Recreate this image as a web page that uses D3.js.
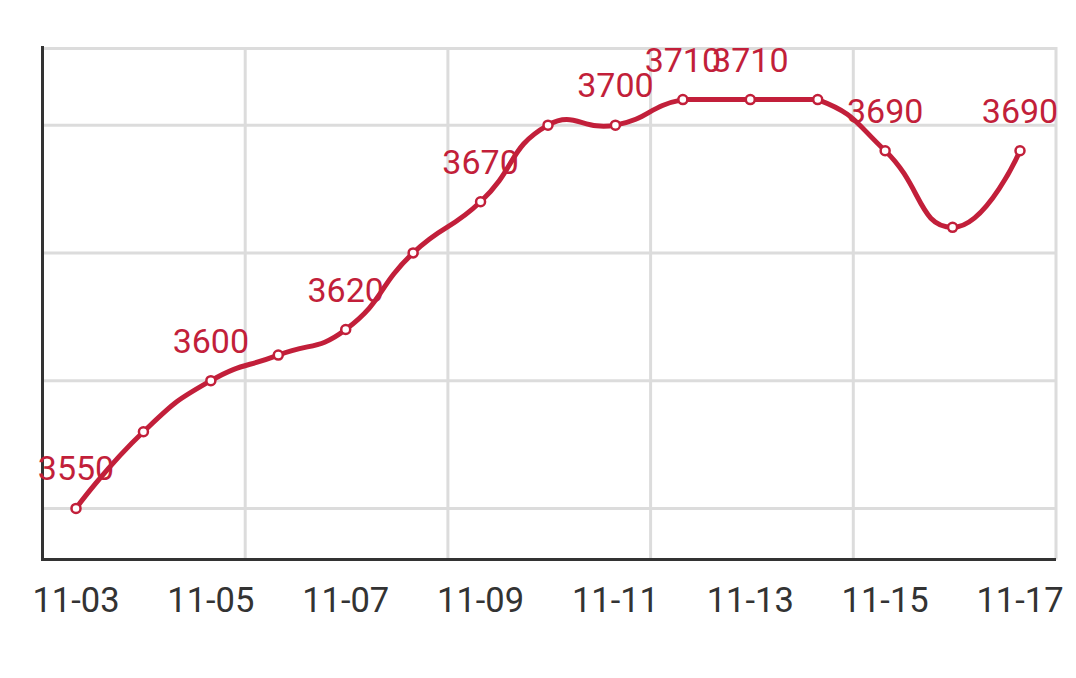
<!DOCTYPE html>
<html>
<head>
<meta charset="utf-8">
<script src="https://cdn.jsdelivr.net/npm/d3@7"></script>
<style>
  html, body { margin: 0; padding: 0; background: #fff; }
  svg { display: block; }
  text { font-family: Roboto, "Noto Sans", sans-serif; }
</style>
</head>
<body>
<svg id="chart" width="1076" height="678"></svg>
<script>
// ---- data ----
const categories = ["11-03","11-04","11-05","11-06","11-07","11-08","11-09","11-10",
                    "11-11","11-12","11-13","11-14","11-15","11-16","11-17"];
const values = [3550, 3580, 3600, 3610, 3620, 3650, 3670, 3700, 3700, 3710, 3710, 3710, 3690, 3660, 3690];
// indices of points whose value label is shown
const labelIndices = [0, 2, 4, 6, 8, 9, 10, 12, 14];
// x-axis labels shown
const xTickLabels = ["11-03","11-05","11-07","11-09","11-11","11-13","11-15","11-17"];
const yDomain = [3530, 3730];
const yGridValues = [3550, 3600, 3650, 3700, 3730];

// ---- layout ----
const plotLeft = 42.5, plotRight = 1056, plotTop = 48.5, plotBottom = 559.5;
const lineColor = "#c21f3a";

const svg = d3.select("#chart");

const x = d3.scalePoint().domain(categories).range([76, 1020]);
const y = d3.scaleLinear().domain(yDomain).range([plotBottom, plotTop]);
const xGrid = d3.scaleLinear().domain([0, 5]).range([plotLeft, plotRight]);

// ECharts-style smooth bezier with bounding-box constraint
function smoothCurve(context) {
  let pts;
  return {
    areaStart() {}, areaEnd() {},
    lineStart() { pts = []; },
    point(px, py) { pts.push([+px, +py]); },
    lineEnd() {
      if (!pts.length) return;
      const smooth = 0.5;
      const mn = [d3.min(pts, p => p[0]), d3.min(pts, p => p[1])];
      const mx = [d3.max(pts, p => p[0]), d3.max(pts, p => p[1])];
      const clamp = c => [Math.max(mn[0], Math.min(mx[0], c[0])), Math.max(mn[1], Math.min(mx[1], c[1]))];
      let cp0 = pts[0].slice();
      context.moveTo(pts[0][0], pts[0][1]);
      for (let i = 1; i < pts.length; i++) {
        const p = pts[i], prev = pts[i - 1], next = pts[i + 1];
        let cp1, v = [0, 0], ratio = 0.5;
        if (!next) {
          cp1 = p.slice();
        } else {
          v = [next[0] - prev[0], next[1] - prev[1]];
          const lp = Math.hypot(p[0] - prev[0], p[1] - prev[1]);
          const ln = Math.hypot(next[0] - p[0], next[1] - p[1]);
          ratio = ln / (ln + lp);
          cp1 = [p[0] - v[0] * smooth * (1 - ratio), p[1] - v[1] * smooth * (1 - ratio)];
        }
        const a = clamp(cp0), b = clamp(cp1);
        context.bezierCurveTo(a[0], a[1], b[0], b[1], p[0], p[1]);
        cp0 = [p[0] + v[0] * smooth * ratio, p[1] + v[1] * smooth * ratio];
      }
    }
  };
}

// grid
const grid = svg.append("g").attr("stroke", "#dcdcdc").attr("stroke-width", 3);
grid.selectAll("line.h").data(yGridValues).join("line")
  .attr("x1", plotLeft).attr("x2", plotRight)
  .attr("y1", d => y(d)).attr("y2", d => y(d));
grid.selectAll("line.v").data(d3.range(1, 6)).join("line")
  .attr("x1", d => xGrid(d)).attr("x2", d => xGrid(d))
  .attr("y1", y(yDomain[1]) - 1.5).attr("y2", plotBottom);

// axes
svg.append("line").attr("x1", plotLeft).attr("x2", plotLeft)
  .attr("y1", y(yDomain[1]) - 2.5).attr("y2", plotBottom + 1.5)
  .attr("stroke", "#333").attr("stroke-width", 3);
svg.append("line").attr("x1", plotLeft - 1.5).attr("x2", plotRight)
  .attr("y1", plotBottom).attr("y2", plotBottom)
  .attr("stroke", "#333").attr("stroke-width", 3);

// x labels
svg.append("g").selectAll("text").data(xTickLabels).join("text")
  .attr("x", d => x(d)).attr("y", 612)
  .attr("text-anchor", "middle")
  .attr("font-size", 34.5)
  .attr("fill", "#333")
  .text(d => d);

// line
const data = categories.map((c, i) => ({ c, v: values[i] }));
const line = d3.line().x(d => x(d.c)).y(d => y(d.v)).curve(smoothCurve);
svg.append("path").datum(data)
  .attr("d", line)
  .attr("fill", "none")
  .attr("stroke", lineColor)
  .attr("stroke-width", 5)
  .attr("stroke-linejoin", "round");

// points
svg.append("g").selectAll("circle").data(data).join("circle")
  .attr("cx", d => x(d.c)).attr("cy", d => y(d.v))
  .attr("r", 4.5)
  .attr("fill", "#fff")
  .attr("stroke", lineColor)
  .attr("stroke-width", 2.5);

// value labels
svg.append("g").selectAll("text").data(labelIndices.map(i => data[i])).join("text")
  .attr("x", d => x(d.c)).attr("y", d => y(d.v) - 28)
  .attr("text-anchor", "middle")
  .attr("font-size", 34)
  .attr("fill", lineColor)
  .text(d => d.v);
</script>
</body>
</html>
